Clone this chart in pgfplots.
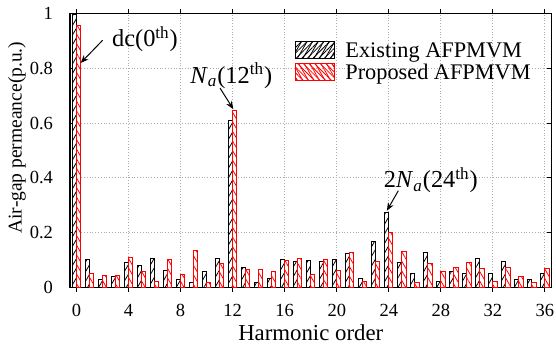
\documentclass[border=0pt]{standalone}
\usepackage{pgfplots}
\pgfplotsset{compat=1.18}
\usepackage{pgfplotstable}
\usepackage{fontspec}
\setmainfont{Liberation Serif}
\usetikzlibrary{patterns.meta,arrows.meta}

\pgfplotstableread{
h e p
0 0.997 0.958
1 0.102 0.052
2 0.027 0.044
3 0.041 0.044
4 0.092 0.109
5 0.078 0.059
6 0.107 0.022
7 0.062 0.101
8 0.030 0.046
9 0.018 0.133
10 0.058 0.019
11 0.107 0.086
12 0.611 0.647
13 0.073 0.064
14 0.019 0.066
15 0.031 0.056
16 0.102 0.099
17 0.095 0.106
18 0.099 0.045
19 0.095 0.103
20 0.102 0.063
21 0.125 0.128
22 0.033 0.021
23 0.169 0.096
24 0.274 0.202
25 0.092 0.132
26 0.049 0.017
27 0.129 0.086
28 0.023 0.059
29 0.056 0.072
30 0.051 0.092
31 0.104 0.069
32 0.052 0.023
33 0.095 0.073
34 0.027 0.040
35 0.027 0.019
36 0.052 0.067
}\data

\begin{document}
\begin{tikzpicture}
\begin{axis}[
  scale only axis,
  width=240.75pt, height=136.8pt,
  xmin=-0.5, xmax=36.5, ymin=0, ymax=1,
  xtick={0,4,...,36}, ytick={0,0.2,0.4,0.6,0.8,1},
  yticklabels={0,0.2,0.4,0.6,0.8,1},
  /pgf/number format/assume math mode=true,
  tick align=inside, major tick length=2.2pt,
  tick style={black, line width=0.5pt},
  axis line style={black, line width=0.6pt},
  grid=major,
  major grid style={densely dotted, gray!65, line width=0.5pt},
  ticklabel style={font=\fontsize{9.25}{11}\selectfont},
  xticklabel style={anchor=base, inner sep=0pt, yshift=-12.2pt},
  yticklabel style={anchor=east, inner sep=0pt, xshift=-8.3pt},
  xlabel={Harmonic order},
  ylabel={Air-gap permeance(p.u.)},
  xlabel style={font=\fontsize{11.4}{13}\selectfont, at={(axis description cs:0.5,0)}, anchor=base, inner sep=0pt, yshift=-26.6pt},
  ylabel style={font=\fontsize{9.75}{12}\selectfont, at={(axis description cs:-0.110,0.547)}, anchor=center, inner sep=0pt},
  ybar, bar width=0.32,
  legend style={draw=none, fill=none, inner sep=0pt, outer sep=0pt,
    at={(axis description cs:0.4673,0.8996)}, anchor=north west,
    font=\fontsize{11.15}{13}\selectfont, row sep=1.5pt,
    nodes={inner sep=0pt, anchor=base west},
    /tikz/every odd column/.append style={column sep=5.3pt}},
  legend cell align=left,
]
\addplot[draw=black, line width=0.5pt, fill=white,
  postaction={pattern={Lines[angle=60,distance=2.4pt,line width=0.4pt]}, pattern color=black},
  bar shift=-0.16,
  legend image code/.code={\draw[black, line width=0.5pt, pattern={Lines[angle=45,distance=2pt,line width=0.4pt]}, pattern color=black] (0pt,-0.8pt) rectangle (19.5pt,7.8pt);}]
  table[x=h,y=e]{\data};
\addlegendentry{Existing AFPMVM}
\addplot[draw=red, line width=0.5pt, fill=white,
  postaction={pattern={Lines[angle=-60,distance=2.4pt,line width=0.4pt]}, pattern color=red},
  bar shift=0.16,
  legend image code/.code={\draw[red, line width=0.5pt, pattern={Lines[angle=-45,distance=2pt,line width=0.4pt]}, pattern color=red] (0pt,-0.8pt) rectangle (19.5pt,7.8pt);}]
  table[x=h,y=p]{\data};
\addlegendentry{Proposed AFPMVM}

\draw[line width=0.5pt, -{Stealth[length=4pt,width=3.2pt]}] (axis cs:2.01,0.903) -- (axis cs:0.32,0.820);
\draw[line width=0.5pt, -{Stealth[length=4pt,width=3.2pt]}] (axis cs:11.03,0.728) -- (axis cs:12.05,0.651);
\draw[line width=0.5pt, -{Stealth[length=4pt,width=3.2pt]}] (axis cs:24.73,0.353) -- (axis cs:23.85,0.280);
\node[anchor=base west, inner sep=0pt, font=\fontsize{12.2}{14}\selectfont] at (axis cs:2.705,0.879) {dc(0\textsuperscript{th})};
\node[anchor=base west, inner sep=0pt, font=\fontsize{12.2}{14}\selectfont] at (axis cs:8.72,0.746) {\textit{N}\textsubscript{\textit{a}}(12\textsuperscript{th})};
\node[anchor=base west, inner sep=0pt, font=\fontsize{12.2}{14}\selectfont] at (axis cs:23.58,0.364) {2\textit{N}\textsubscript{\textit{a}}(24\textsuperscript{th})};
\end{axis}
\path (current axis.south west) ++(-35pt,-27.85pt) coordinate (bl);
\path (current axis.north east) ++(2.25pt,6.85pt) coordinate (tr);
\pgfresetboundingbox
\path (bl) rectangle (tr);
\end{tikzpicture}
\end{document}
